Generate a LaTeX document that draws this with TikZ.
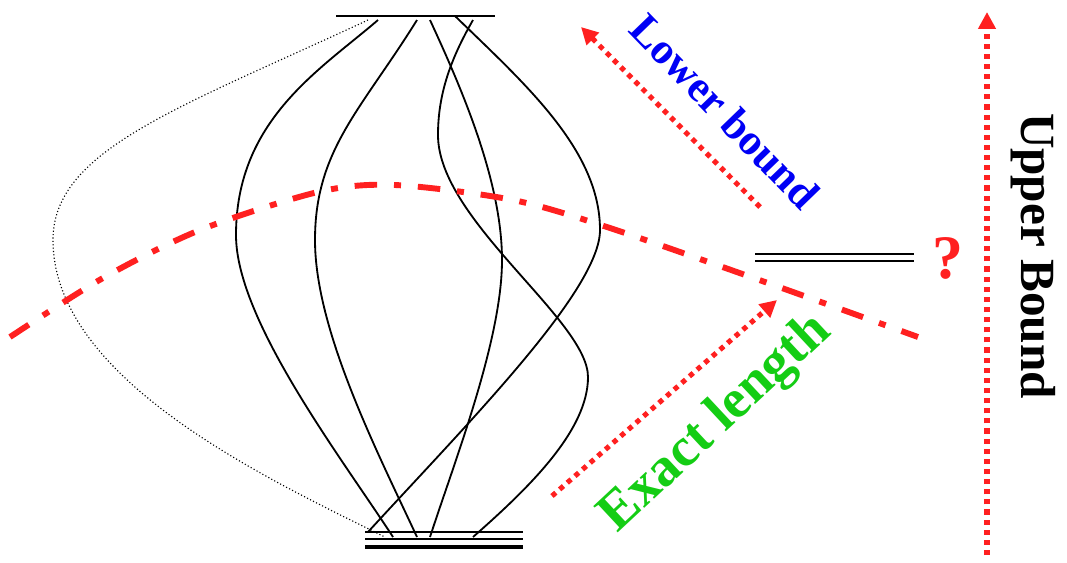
\documentclass[tikz,border=0pt]{standalone}
\usepackage{fontspec}
\setmainfont{Liberation Serif}
\usetikzlibrary{arrows.meta}
\definecolor{boundred}{RGB}{255,32,32}
\definecolor{lowblue}{RGB}{0,0,245}
\definecolor{exgreen}{RGB}{20,205,20}

\tikzset{
  bar/.style={line width=1.6pt},
  walk/.style={line width=1.3pt},
  guess/.style={boundred, line width=4.2pt, dash pattern=on 16pt off 12pt on 5pt off 12pt},
  bnd/.style={boundred, line width=3.6pt, dash pattern=on 3.6pt off 3.6pt,
    -{Triangle[length=12pt,width=12pt]}},
  lbl/.style={font=\fontsize{31}{36}\selectfont\bfseries}
}

\begin{document}
\begin{tikzpicture}[x=0.025cm,y=-0.025cm]
  \useasboundingbox (0,0) rectangle (1067,562);
  % levels
  \draw[bar] (336,16) -- (495,16);
  \foreach \y in {532,539}
    \draw[bar] (365,\y) -- (523,\y);
  \draw[bar, line width=2.2pt] (365,547) -- (523,547);
  \draw[bar] (755,254) -- (914,254);
  \draw[bar] (755,261) -- (914,261);
  % paths between the levels
  \draw[walk] (378,20) .. controls (320,70) and (236,120) .. (236,235)
    .. controls (236,320) and (341,457) .. (393,537);
  \draw[walk] (417,20) .. controls (361,110) and (315,150) .. (315,240)
    .. controls (315,330) and (377,451) .. (417,537);
  \draw[walk] (455,16) .. controls (525,84) and (600,150) .. (600,230)
    .. controls (600,290) and (468,423) .. (368,532);
  \draw[walk] (430,20) .. controls (460,85) and (502,180) .. (502,260)
    .. controls (502,340) and (455,460) .. (430,537);
  \draw[walk] (473,20) .. controls (450,60) and (438,95) .. (438,135)
    .. controls (438,220) and (588,320) .. (588,377)
    .. controls (588,430) and (530,487) .. (473,537);
  \draw[line width=0.8pt, dash pattern=on 0.8pt off 1.6pt]
    (368,20) .. controls (179,108) and (53,150) .. (53,240)
    .. controls (53,380) and (270,480) .. (385,537);
  % guessed level
  \draw[guess] plot[smooth] coordinates {(10,337) (103,278) (200,230) (318,192) (395,185) (513,200) (610,228) (765,282) (918,337)};
  % labels
  \node[lbl, lowblue, rotate=-46] (lower) at (725,111) {Lower bound};
  \node[lbl, exgreen, rotate=43, font=\fontsize{39}{44}\selectfont\bfseries] (exact) at (716,424) {Exact length};
  \node[lbl, rotate=-90, font=\fontsize{35}{40}\selectfont\bfseries] (upper) at (1033,256) {Upper Bound};
  \node[boundred, font=\fontsize{44}{48}\selectfont\bfseries] (qmark) at (948,258) {?};
  % bounds
  \coordinate (lowS) at (760,207);
  \coordinate (lowE) at (581,27);
  \coordinate (exS) at (552,496);
  \coordinate (exE) at (777,300);
  \coordinate (upS) at (987,555);
  \coordinate (upE) at (987,12);
  \draw[bnd] (lowS) -- (lowE);
  \draw[bnd] (exS) -- (exE);
  \draw[bnd] (upS) -- (upE);
\end{tikzpicture}
\end{document}
